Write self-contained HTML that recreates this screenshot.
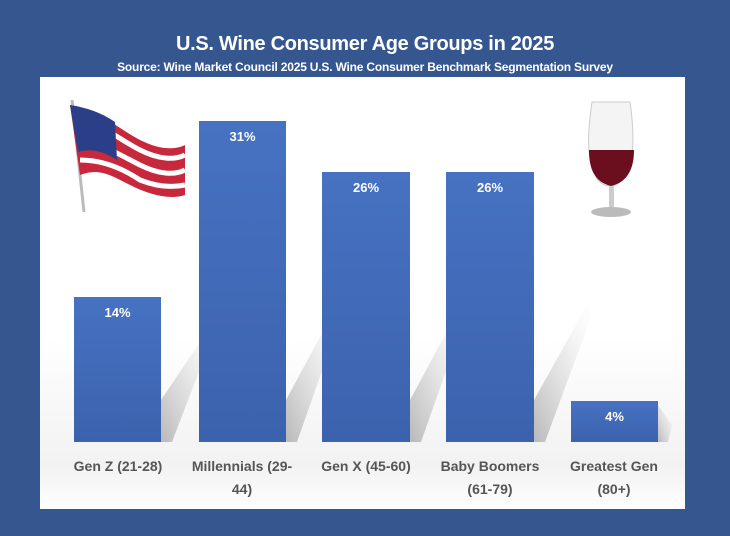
<!DOCTYPE html>
<html><head><style>
html,body{margin:0;padding:0;}
body{width:730px;height:536px;background:#36568f;position:relative;overflow:hidden;font-family:"Liberation Sans",Arial,sans-serif;}
.t{position:absolute;left:0;width:730px;text-align:center;color:#fff;font-weight:bold;}
.panel{position:absolute;left:40px;top:77px;width:645px;height:432px;background:linear-gradient(#fff 0%,#fff 60%,#f2f2f2 90%,#fff 100%);}
.bar{position:absolute;background:linear-gradient(#4772c2,#3b62ad);color:#fff;font-weight:bold;font-size:13px;text-align:center;padding-top:8px;box-sizing:border-box;}
.lab{position:absolute;top:455px;width:124px;text-align:center;color:#555;font-weight:bold;font-size:14px;line-height:23px;}
</style></head><body>
<div class="t" style="top:33px;font-size:20px;letter-spacing:-0.3px;">U.S. Wine Consumer Age Groups in 2025</div>
<div class="t" style="top:60px;font-size:12px;letter-spacing:-0.2px;">Source: Wine Market Council 2025 U.S. Wine Consumer Benchmark Segmentation Survey</div>
<div class="panel"></div>
<svg style="position:absolute;left:0;top:0" width="730" height="536">
<defs><linearGradient id="sh" x1="0" y1="1" x2="1" y2="0"><stop offset="0" stop-color="#aaa" stop-opacity="0.8"/><stop offset="1" stop-color="#ddd" stop-opacity="0"/></linearGradient></defs>
<polygon points="161,442 161,400 215,320 215,330 172,442" fill="url(#sh)"/>
<polygon points="286,442 286,400 340,300 340,320 297,442" fill="url(#sh)"/>
<polygon points="410,442 410,400 464,300 464,320 421,442" fill="url(#sh)"/>
<polygon points="534,442 534,400 590,300 590,320 545,442" fill="url(#sh)"/>
<polygon points="658,442 658,405 672,425 668,442" fill="url(#sh)"/>
<!-- flag -->
<line x1="72" y1="100" x2="84" y2="212" stroke="#bbb" stroke-width="3"/>
<path d="M70,105 C100,110 120,130 140,140 C160,150 175,150 185,145 L185,195 C170,200 150,195 130,185 C110,175 100,168 80,175 Z" fill="#c8283c"/>
<path d="M75,120 C105,125 120,140 140,150 C160,160 175,160 185,155 M78,140 C105,145 120,155 140,165 C160,175 175,175 185,170 M80,160 C105,160 125,170 140,180 C160,188 175,187 185,185" stroke="#fff" stroke-width="5" fill="none"/>
<path d="M70,105 C90,108 105,115 115,122 L117,160 C105,152 92,148 78,152 Z" fill="#2a3f88"/>
<!-- glass -->
<path d="M592,102 L630,102 C634,130 636,160 622,180 C615,188 605,188 598,180 C585,160 588,130 592,102 Z" fill="#f4f4f4" stroke="#ccc"/>
<path d="M589,150 L634,150 C634,168 628,182 611,186 C594,182 589,168 589,150 Z" fill="#6b0f1e"/>
<rect x="609" y="186" width="5" height="24" fill="#ccc"/>
<ellipse cx="611" cy="212" rx="20" ry="5" fill="#bbb"/>
</svg>
<div class="bar" style="left:74px;top:297px;width:87px;height:145px;">14%</div>
<div class="bar" style="left:199px;top:121px;width:87px;height:321px;">31%</div>
<div class="bar" style="left:322px;top:172px;width:88px;height:270px;">26%</div>
<div class="bar" style="left:446px;top:172px;width:88px;height:270px;">26%</div>
<div class="bar" style="left:571px;top:401px;width:87px;height:41px;">4%</div>
<div class="lab" style="left:56px;">Gen Z (21-28)</div>
<div class="lab" style="left:180px;">Millennials (29-<br>44)</div>
<div class="lab" style="left:304px;">Gen X (45-60)</div>
<div class="lab" style="left:428px;">Baby Boomers<br>(61-79)</div>
<div class="lab" style="left:552px;">Greatest Gen<br>(80+)</div>
</body></html>
